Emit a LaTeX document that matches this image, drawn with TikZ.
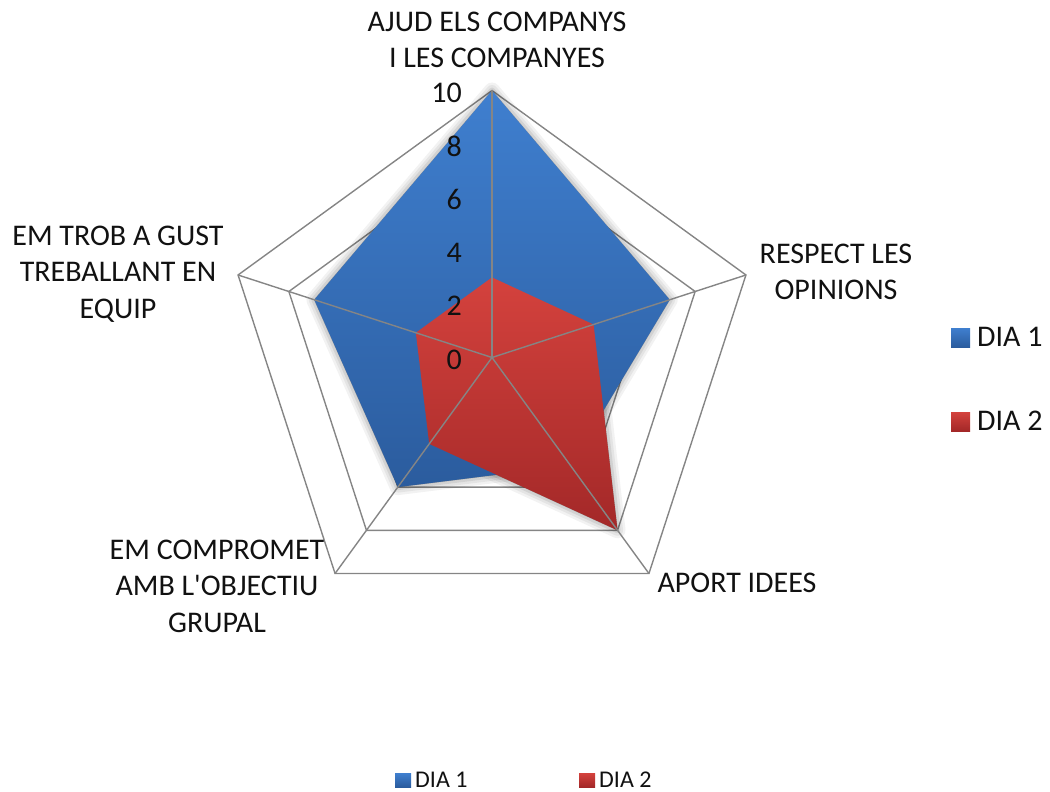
\documentclass[tikz,border=0pt]{standalone}
\usepackage{fontspec}
\setmainfont{Carlito}
\definecolor{gridgray}{HTML}{858585}
\definecolor{txt}{HTML}{111111}
\definecolor{blueT}{HTML}{3F7FCF}
\definecolor{blueB}{HTML}{2B5C9E}
\definecolor{redT}{HTML}{D4423D}
\definecolor{redB}{HTML}{A32828}
\begin{document}
\begin{tikzpicture}[x=1pt,y=1pt,
  gridline/.style={draw=gridgray, line width=1.4pt},
  lbl/.style={font=\fontsize{30}{36.5}\selectfont, text=txt, align=center, inner sep=0pt},
  num/.style={font=\fontsize{30}{36}\selectfont, text=txt, anchor=east, inner sep=0pt},
  leg/.style={font=\fontsize{30}{36}\selectfont, text=txt, anchor=west, inner sep=0pt},
  legs/.style={font=\fontsize{24}{28}\selectfont, text=txt, anchor=west, inner sep=0pt},
  bluefill/.style={top color=blueT, bottom color=blueB, draw=none},
  redfill/.style={top color=redT, bottom color=redB, draw=none},
  shadowline/.style={draw=black, line join=round, fill=black}]
\useasboundingbox (0,0) rectangle (1050,-792);
\coordinate (O) at (492,-357.5);
\def\u{26.7}
\foreach \k in {0,...,4}{
  \foreach \v in {2,4,6,8,10}{
    \coordinate (g\k-\v) at ([shift={(492,-357.5)}]{90-72*\k}:{\v*\u});
  }
}
% data
\foreach \k/\v in {0/10,1/7,2/5,3/6,4/7}
  \coordinate (b\k) at ([shift={(492,-357.5)}]{90-72*\k}:{\v*\u});
\foreach \k/\v in {0/3,1/4,2/8,3/4,4/3}
  \coordinate (r\k) at ([shift={(492,-357.5)}]{90-72*\k}:{\v*\u});
% grid pentagons
\foreach \v in {2,4,6,8,10}
  \draw[gridline] (g0-\v) -- (g1-\v) -- (g2-\v) -- (g3-\v) -- (g4-\v) -- cycle;
% soft shadows
\begin{scope}[shift={(3,-5)}]
  \foreach \w/\o in {16/0.05,11/0.06,6/0.08,1/0.10}{
    \draw[shadowline, line width=\w pt, opacity=\o] (b0) -- (b1) -- (b2) -- (b3) -- (b4) -- cycle;
    \draw[shadowline, line width=\w pt, opacity=\o] (r0) -- (r1) -- (r2) -- (r3) -- (r4) -- cycle;
  }
\end{scope}
% series
\path[bluefill] (b0) -- (b1) -- (b2) -- (b3) -- (b4) -- cycle;
\path[redfill] (r0) -- (r1) -- (r2) -- (r3) -- (r4) -- cycle;
% spokes
\foreach \k in {0,...,4}
  \draw[gridline] (O) -- (g\k-10);
% scale numbers
\foreach \v in {0,2,4,6,8,10}
  \node[num] (n\v) at ([shift={(492,-357.5)}]-30,{\v*\u-2}) {\v};
% axis labels
\node[lbl] (l0) at (497,-40) {AJUD ELS COMPANYS\\I LES COMPANYES};
\node[lbl] (l1) at (836,-272) {RESPECT LES\\OPINIONS};
\node[lbl] (l2) at (737,-583) {APORT IDEES};
\node[lbl] (l3) at (217,-586) {EM COMPROMET\\AMB L\textquotesingle OBJECTIU\\GRUPAL};
\node[lbl] (l4) at (118,-274) {EM TROB A GUST\\TREBALLANT EN\\EQUIP};
% right legend
\path[bluefill] (951,-328) rectangle (970,-347);
\node[leg] (d1) at (977,-337) {DIA 1};
\path[redfill] (951,-412) rectangle (970,-431);
\node[leg] (d2) at (977,-421) {DIA 2};
% bottom legend
\path[bluefill] (395,-773) rectangle (411,-787);
\node[legs] (e1) at (415,-780) {DIA 1};
\path[redfill] (579,-773) rectangle (595,-787);
\node[legs] (e2) at (599,-780) {DIA 2};
\end{tikzpicture}
\end{document}
